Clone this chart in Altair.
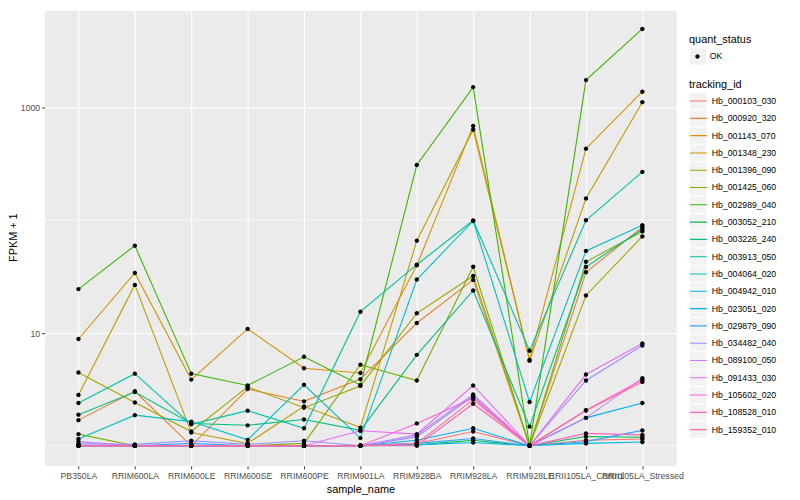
import altair as alt
import pandas as pd

samples = ["PB350LA", "RRIM600LA", "RRIM600LE", "RRIM600SE", "RRIM600PE", "RRIM901LA",
           "RRIM928BA", "RRIM928LA", "RRIM928LE", "RRII105LA_Control", "RRII105LA_Stressed"]

tracking_ids = ["Hb_000103_030", "Hb_000920_320", "Hb_001143_070", "Hb_001348_230",
                "Hb_001396_090", "Hb_001425_060", "Hb_002989_040", "Hb_003052_210",
                "Hb_003226_240", "Hb_003913_050", "Hb_004064_020", "Hb_004942_010",
                "Hb_023051_020", "Hb_029879_090", "Hb_034482_040", "Hb_089100_050",
                "Hb_091433_030", "Hb_105602_020", "Hb_108528_010", "Hb_159352_010"]

line_colors = ["#F8766D", "#EA8331", "#D89000", "#C09B00", "#A3A500", "#7CAE00", "#39B600",
               "#00BB4E", "#00BF7D", "#00C1A3", "#00BFC4", "#00BAE0", "#00B0F6", "#35A2FF",
               "#9590FF", "#C77CFF", "#E76BF3", "#FA62DB", "#FF62BC", "#FF6C91"]

# FPKM + 1 per sample (order of `samples`)
hb_000103_030 = [1.0, 1.0, 1.0, 1.0, 1.0, 1.0, 1.05, 1.34, 1.0, 1.12, 1.15]
hb_000920_320 = [1.69, 3.05, 1.0, 3.19, 2.48, 3.91, 12.3, 29.7, 1.0, 34.7, 87.1]
hb_001143_070 = [8.87, 34.2, 3.87, 10.9, 4.88, 4.43, 40.0, 690.0, 5.77, 434.0, 1390.0]
hb_001348_230 = [2.83, 26.8, 1.31, 1.05, 2.24, 1.45, 66.2, 640.0, 5.7, 157.0, 1122.0]
hb_001396_090 = [4.47, 2.42, 1.34, 3.33, 2.18, 3.4, 15.0, 32.2, 1.0, 21.6, 72.2]
hb_001425_060 = [1.27, 1.0, 1.0, 1.0, 1.05, 5.25, 3.8, 38.8, 1.0, 43.0, 80.0]
hb_002989_040 = [24.6, 59.8, 4.37, 3.43, 6.17, 3.47, 311.0, 1528.0, 1.0, 1762.0, 5012.0]
hb_003052_210 = [1.0, 1.0, 1.0, 1.0, 1.0, 1.0, 1.02, 1.12, 1.0, 1.21, 1.19]
hb_003226_240 = [1.89, 3.0, 1.58, 1.52, 1.71, 1.37, 6.42, 23.9, 1.48, 38.6, 83.7]
hb_003913_050 = [2.40, 4.37, 1.55, 2.05, 1.43, 15.5, 40.5, 100.0, 6.97, 100.4, 270.0]
hb_004064_020 = [1.15, 1.87, 1.64, 1.13, 3.48, 1.17, 29.9, 99.0, 2.45, 53.7, 90.8]
hb_004942_010 = [1.0, 1.0, 1.0, 1.0, 1.0, 1.0, 1.02, 1.07, 1.0, 1.05, 1.08]
hb_023051_020 = [1.0, 1.0, 1.0, 1.0, 1.0, 1.0, 1.12, 1.43, 1.0, 1.77, 2.4]
hb_029879_090 = [1.0, 1.0, 1.05, 1.0, 1.0, 1.0, 1.05, 1.16, 1.0, 1.09, 1.37]
hb_034482_040 = [1.04, 1.03, 1.11, 1.03, 1.11, 1.0, 1.2, 2.77, 1.0, 3.8, 7.77]
hb_089100_050 = [1.09, 1.0, 1.0, 1.0, 1.0, 1.0, 1.25, 2.86, 1.0, 1.77, 3.99]
hb_091433_030 = [1.0, 1.0, 1.0, 1.0, 1.0, 1.36, 1.27, 3.43, 1.0, 4.29, 8.09]
hb_105602_020 = [1.0, 1.0, 1.0, 1.0, 1.0, 1.0, 1.58, 2.66, 1.0, 2.07, 3.85]
hb_108528_010 = [1.0, 1.0, 1.0, 1.0, 1.0, 1.0, 1.0, 2.36, 1.0, 1.29, 1.25]
hb_159352_010 = [1.0, 1.0, 1.0, 1.0, 1.0, 1.0, 1.05, 2.57, 1.0, 2.06, 3.68]

series = [hb_000103_030, hb_000920_320, hb_001143_070, hb_001348_230, hb_001396_090,
          hb_001425_060, hb_002989_040, hb_003052_210, hb_003226_240, hb_003913_050,
          hb_004064_020, hb_004942_010, hb_023051_020, hb_029879_090, hb_034482_040,
          hb_089100_050, hb_091433_030, hb_105602_020, hb_108528_010, hb_159352_010]

major_breaks = [10, 1000]
minor_breaks = [1, 100]

rows = []
for tid, vals in zip(tracking_ids, series):
    for s, v in zip(samples, vals):
        rows.append({"sample_name": s, "tracking_id": tid, "tid_key": tid,
                     "quant_status": "OK", "qs_key": "OK", "fpkm1": v})
df = pd.DataFrame(rows)
minor_df = pd.DataFrame({"fpkm1": minor_breaks})

FONT = "Liberation Sans"
DOT = "M-0.26,0A0.26,0.26,0,1,1,0.26,0A0.26,0.26,0,1,1,-0.26,0Z"
LX = 651

x_enc = alt.X("sample_name:N", sort=samples,
              scale=alt.Scale(type="point", padding=0.6),
              axis=alt.Axis(title="sample_name", labelAngle=0, labelOverlap=False,
                            labelFontSize=8.8, labelColor="#4D4D4D", labelFont=FONT,
                            tickColor="#333333", tickSize=3, labelPadding=3,
                            titlePadding=3, titleFontSize=11, titleColor="black",
                            titleFontWeight="normal", titleFont=FONT,
                            grid=True, gridColor="white", gridWidth=1.1, domain=False))
y_enc = alt.Y("fpkm1:Q",
              scale=alt.Scale(type="log", domain=[0.664, 7310], nice=False),
              axis=alt.Axis(title="FPKM + 1", values=major_breaks, format="d",
                            labelFontSize=8.8, labelColor="#4D4D4D", labelFont=FONT,
                            tickColor="#333333", tickSize=3, labelPadding=2,
                            titleX=-31, titleY=229, titleBaseline="middle",
                            titleFontSize=11, titleColor="black",
                            titleFontWeight="normal", titleFont=FONT,
                            grid=True, gridColor="white", gridWidth=1.1, domain=False))

common_leg = dict(orient="none", legendX=LX, titleFontSize=11, titleFont=FONT,
                  titleFontWeight="normal", titleColor="black", titlePadding=3,
                  labelFontSize=8.8, labelFont=FONT, labelColor="black", labelOffset=4,
                  symbolSize=289, clipHeight=17, rowPadding=0.47, labelLimit=200)

grid_minor = alt.Chart(minor_df).mark_rule(color="white", strokeWidth=0.55).encode(y=y_enc)

key_qs = alt.Chart(df).mark_square(size=0).encode(
    x=x_enc, y=y_enc,
    color=alt.Color("qs_key:N", scale=alt.Scale(range=["#F2F2F2"]),
                    legend=alt.Legend(legendY=24, title="quant_status", titleOpacity=0,
                                      labelOpacity=0, symbolType="square", symbolOpacity=1,
                                      symbolFillColor="#F2F2F2", symbolStrokeColor="white",
                                      symbolStrokeWidth=0.5, **common_leg)))

key_tid = alt.Chart(df).mark_square(size=0).encode(
    x=x_enc, y=y_enc,
    fill=alt.Fill("tid_key:N", scale=alt.Scale(range=["#F2F2F2"]),
                  legend=alt.Legend(legendY=69, title="tracking_id", titleOpacity=0,
                                    labelOpacity=0, symbolType="square", symbolOpacity=1,
                                    symbolStrokeColor="white", symbolStrokeWidth=0.5,
                                    **common_leg)))

lines = alt.Chart(df).mark_line(strokeWidth=1.1).encode(
    x=x_enc, y=y_enc,
    stroke=alt.Stroke("tracking_id:N", scale=alt.Scale(domain=tracking_ids, range=line_colors),
                      legend=alt.Legend(legendY=69, title="tracking_id", symbolType="stroke",
                                        symbolStrokeWidth=1.1, **common_leg)))

points = alt.Chart(df).mark_point(filled=True, size=289, color="black", opacity=1).encode(
    x=x_enc, y=y_enc,
    shape=alt.Shape("quant_status:N", scale=alt.Scale(range=[DOT]),
                    legend=alt.Legend(legendY=24, title="quant_status", symbolFillColor="black",
                                      symbolStrokeWidth=0, symbolOpacity=1, **common_leg)))

chart = alt.layer(grid_minor, key_qs, key_tid, lines, points).properties(
    width=638, height=460,
    autosize=alt.AutoSizeParams(type="none"),
    padding={"left": 37, "top": 0, "right": 117, "bottom": 32},
).configure_view(fill="#EBEBEB", stroke="transparent")

chart.save("out.html", embed_options={"renderer": "svg", "actions": False})
